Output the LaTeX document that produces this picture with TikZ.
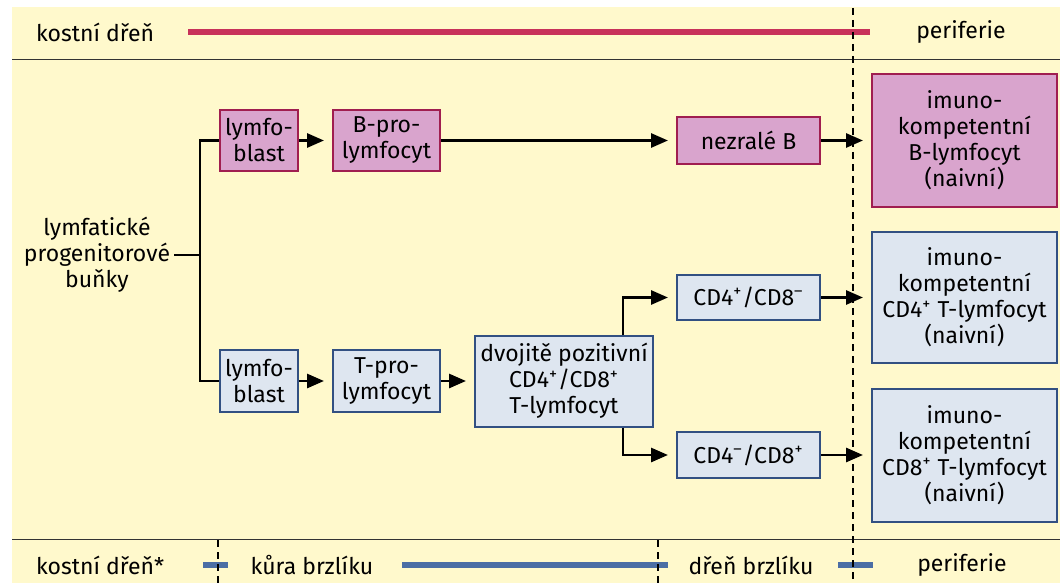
\documentclass[tikz,border=0pt]{standalone}
\usepackage{fontspec}
\setmainfont{Fira Sans}
\usepackage{xcolor}
\usetikzlibrary{positioning,arrows.meta,calc}
\definecolor{paper}{HTML}{FFF9CC}
\definecolor{bfill}{HTML}{D9A4CD}
\definecolor{bline}{HTML}{A01E50}
\definecolor{tfill}{HTML}{DEE6F0}
\definecolor{tline}{HTML}{325082}
\definecolor{redbar}{HTML}{C8325A}
\definecolor{bluebar}{HTML}{4B6EA5}
\newcommand{\plusup}{\textsuperscript{+}}
\newcommand{\minusup}{\textsuperscript{–}}

\begin{document}
\begin{tikzpicture}[x=0.5pt, y=-0.5pt,
  font=\fontsize{11.5}{13}\selectfont,
  box/.style={draw, line width=1pt, align=center, inner sep=1pt},
  bcell/.style={box, fill=bfill, draw=bline},
  tcell/.style={box, fill=tfill, draw=tline},
  arr/.style={-{Triangle[length=8.5pt, width=7pt]}, line width=1.4pt, shorten >=4pt},
  link/.style={line width=1.4pt},
  zone/.style={line width=3pt},
  rule/.style={line width=0.7pt, draw=black!80},
  divider/.style={line width=0.6pt, dash pattern=on 3.5pt off 2.5pt}]
\useasboundingbox (0,0) rectangle (1060,583);
\fill[white] (0,0) rectangle (1060,583);
\fill[paper] (12,7) rectangle (1060,583);

% zones
\node[anchor=west] (topbm) at (29,32) {kostní dřeň};
\node (topper) at (961,32) {periferie};
\draw[zone, redbar] (188,32) -- (870,32);
\node[anchor=west] (botbm) at (29,565) {kostní dřeň*};
\node (botcx) at (312,565) {kůra brzlíku};
\node (botmd) at (751,565) {dřeň brzlíku};
\node (botper) at (962,565) {periferie};
\draw[zone, bluebar] (203,565) -- (228,565);
\draw[zone, bluebar] (402,565) -- (668,565);
\draw[zone, bluebar] (838,565) -- (873,565);
\draw[rule] (12,59.5) -- (1060,59.5);
\draw[rule] (12,539.5) -- (1060,539.5);
\draw[divider] (853,8) -- (853,583);
\draw[divider] (218,540) -- (218,583);
\draw[divider] (658,540) -- (658,583);

% B line
\node[bcell, minimum width=39pt, minimum height=30.5pt] (lbB) at (259,140.5) {lymfo-\\blast};
\node[bcell, minimum width=53.5pt, minimum height=30.5pt] (proB) at (386.5,140.5) {B-pro-\\lymfocyt};
\node[bcell, minimum width=71.5pt, minimum height=23pt] (immB) at (748.5,140.5) {nezralé B};
\node[bcell, minimum width=92.5pt, minimum height=66pt] (matB) at (964.5,140.5) {imuno-\\kompetentní\\B-lymfocyt\\(naivní)};

% T line
\node[tcell, minimum width=39pt, minimum height=31pt] (lbT) at (259,381) {lymfo-\\blast};
\node[tcell, minimum width=53.5pt, minimum height=31pt] (proT) at (386.5,381) {T-pro-\\lymfocyt};
\node[tcell, minimum width=89pt, minimum height=45.5pt] (dp) at (564,381) {dvojitě pozitivní\\CD4\plusup/CD8\plusup\\T-lymfocyt};
\node[tcell, minimum width=71.5pt, minimum height=22.5pt] (cd4) at (748.5,297.5) {CD4\plusup/CD8\minusup};
\node[tcell, minimum width=71.5pt, minimum height=23pt] (cd8) at (748.5,455) {CD4\minusup/CD8\plusup};
\node[tcell, minimum width=92.5pt, minimum height=65.5pt] (matT4) at (964.5,297.5) {imuno-\\kompetentní\\CD4\plusup\ T-lymfocyt\\(naivní)};
\node[tcell, minimum width=92.5pt, minimum height=66.5pt] (matT8) at (964.5,455) {imuno-\\kompetentní\\CD8\plusup\ T-lymfocyt\\(naivní)};

\node[align=center, inner sep=2pt] (prog) at (97,255) {lymfatické\\progenitorové\\buňky};
\coordinate (fork) at (200,255);
\coordinate (split) at (623,381);

\draw[link] (prog) -- (fork);
\draw[link] (lbB.west) -| (fork) |- (lbT.west);
\draw[arr] (lbB) -- (proB);
\draw[arr] (proB) -- (immB);
\draw[arr] (immB) -- (matB);
\draw[arr] (lbT) -- (proT);
\draw[arr] (proT) -- (dp);
\draw[arr] (dp.north -| split) |- (cd4);
\draw[arr] (dp.south -| split) |- (cd8);
\draw[arr] (cd4) -- (matT4);
\draw[arr] (cd8) -- (matT8);
\end{tikzpicture}
\end{document}
